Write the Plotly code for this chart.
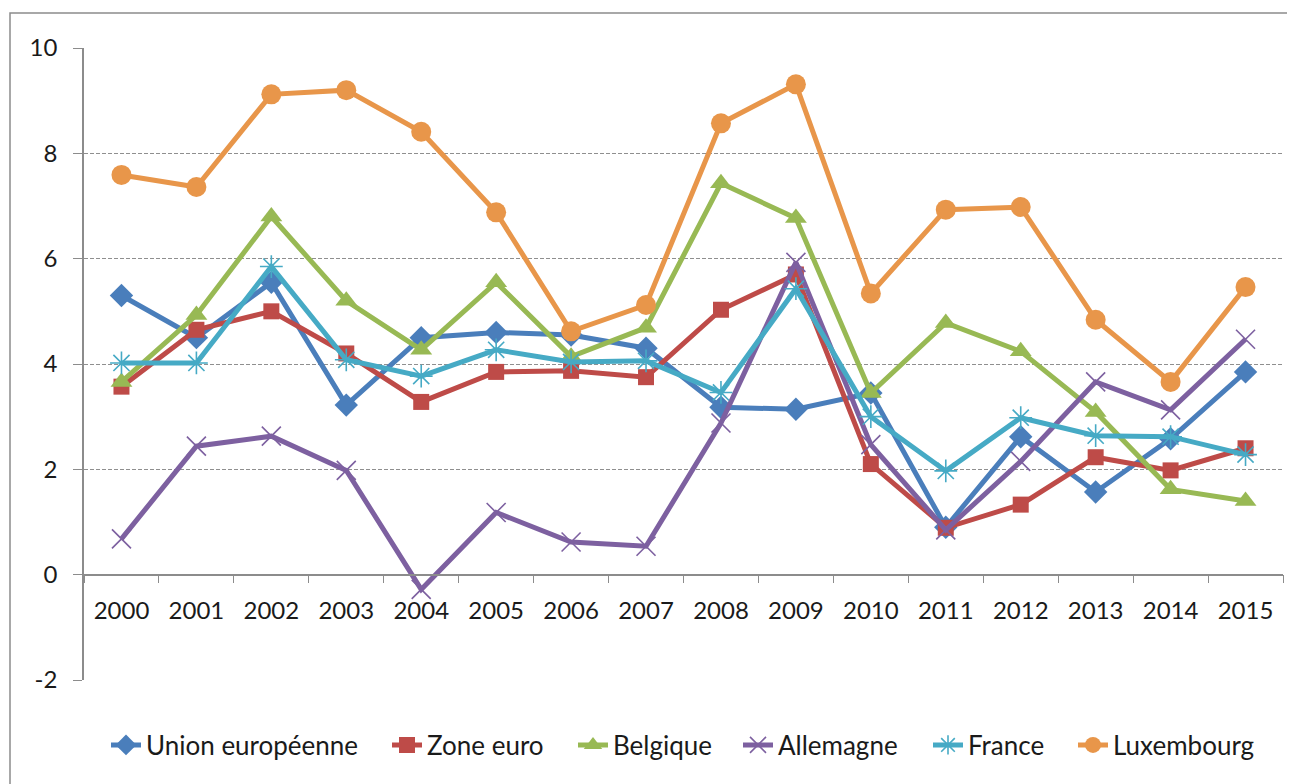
import plotly.graph_objects as go

years = [str(y) for y in range(2000, 2016)]

union_europeenne = [5.3, 4.5, 5.55, 3.22, 4.5, 4.6, 4.55, 4.3, 3.18, 3.14, 3.45, 0.9, 2.62, 1.57, 2.58, 3.85]
zone_euro = [3.57, 4.65, 5.0, 4.2, 3.28, 3.85, 3.87, 3.75, 5.03, 5.7, 2.1, 0.89, 1.33, 2.23, 1.98, 2.4]
belgique = [3.66, 4.93, 6.8, 5.2, 4.27, 5.55, 4.14, 4.69, 7.43, 6.77, 3.45, 4.78, 4.24, 3.09, 1.62, 1.4]
allemagne = [0.68, 2.44, 2.63, 1.98, -0.28, 1.18, 0.62, 0.54, 2.88, 5.93, 2.47, 0.85, 2.15, 3.66, 3.13, 4.47]
france = [4.02, 4.02, 5.85, 4.08, 3.77, 4.27, 4.04, 4.06, 3.46, 5.43, 3.0, 1.97, 2.98, 2.64, 2.62, 2.28]
luxembourg = [7.59, 7.36, 9.12, 9.2, 8.41, 6.88, 4.62, 5.12, 8.57, 9.31, 5.34, 6.93, 6.98, 4.84, 3.66, 5.46]

y_tick_values = [-2, 0, 2, 4, 6, 8, 10]
y_tick_labels = ["-2", "0", "2", "4", "6", "8", "10"]

names = ["Union européenne", "Zone euro", "Belgique", "Allemagne", "France", "Luxembourg"]
values = [union_europeenne, zone_euro, belgique, allemagne, france, luxembourg]
colors = ["#4a7ebb", "#be4b48", "#98b954", "#7d60a0", "#46aac5", "#e8964a"]
symbols = ["diamond", "square", "triangle-up", "x-thin-open", "asterisk-open", "circle"]
sizes = [18, 16, 19, 19, 19, 20]
# page x (px) where each legend label starts in the reference
legend_text_x = [146, 427, 613, 778, 968, 1113]

FONT = "Lato"
OFF = 8  # browser body margin
W, H = 1295 - OFF, 784 - OFF
# plot area in page pixels: x 84..1283, y 48..680
ml, mt = 84 - OFF, 48 - OFF
mr = W - (1283 - OFF)
mb = H - (680 - OFF)
pw, ph = W - ml - mr, H - mt - mb

fig = go.Figure()
for i, (name, vals, color, sym, size) in enumerate(zip(names, values, colors, symbols, sizes)):
    marker = dict(symbol=sym, size=size, color=color)
    if sym.endswith("-open"):
        marker["line"] = dict(color=color, width=1.6)
    lg = "legend" if i == 0 else f"legend{i + 1}"
    fig.add_trace(go.Scatter(
        x=years, y=vals, name=name, mode="lines+markers",
        line=dict(color=color, width=5), marker=marker, legend=lg,
    ))

legend_layout = {}
for i, tx in enumerate(legend_text_x):
    lg = "legend" if i == 0 else f"legend{i + 1}"
    legend_layout[lg] = dict(
        orientation="h", x=(tx - 40 - 84) / pw, xanchor="left",
        y=(680 - 745) / ph, yanchor="middle",
        font=dict(family=FONT, size=26, color="#1a1a1a"),
        bgcolor="rgba(0,0,0,0)", borderwidth=0,
    )

# outer chart frame (partly outside the window, as in the reference)
fig.add_shape(type="rect", xref="paper", yref="paper",
              x0=(10 - 84) / pw, x1=1.2, y0=-0.6, y1=1 + (48 - 13) / ph,
              line=dict(color="#8c8c8c", width=1.5), fillcolor="rgba(0,0,0,0)", layer="below")

fig.update_layout(
    width=W, height=H,
    margin=dict(l=ml, r=mr, t=mt, b=mb, autoexpand=False),
    paper_bgcolor="white", plot_bgcolor="white",
    font=dict(family=FONT, size=24, color="#1a1a1a"),
    showlegend=True,
    xaxis=dict(
        type="category", categoryorder="array", categoryarray=years,
        range=[-0.5, 15.5], anchor="free", position=1/6,
        showline=True, linecolor="#8c8c8c", linewidth=1.5,
        ticks="outside", tickson="boundaries", ticklen=8, tickcolor="#8c8c8c",
        showgrid=False, ticklabelstandoff=15,
        tickfont=dict(family=FONT, size=24, color="#1a1a1a"),
    ),
    yaxis=dict(
        range=[-2, 10], tickmode="array", tickvals=y_tick_values, ticktext=y_tick_labels,
        showline=True, linecolor="#8c8c8c", linewidth=1.5,
        ticks="outside", ticklen=9, tickcolor="#8c8c8c",
        showgrid=True, gridcolor="#8f8f8f", griddash="4px,2px", gridwidth=1,
        zeroline=False, ticklabelstandoff=11,
        tickfont=dict(family=FONT, size=24, color="#1a1a1a"),
    ),
    **legend_layout,
)

fig.write_html("out.html")
